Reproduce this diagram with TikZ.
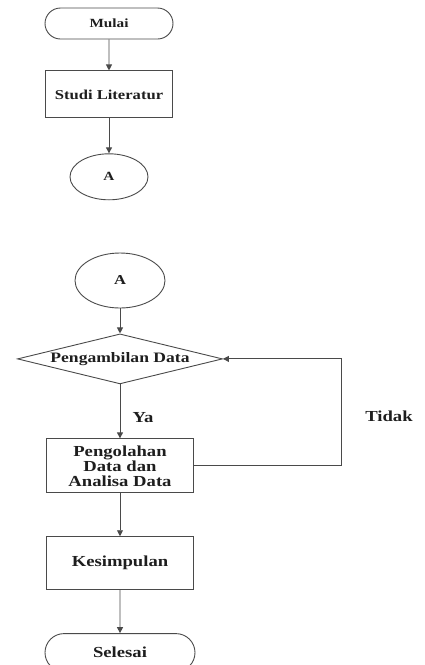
\documentclass[tikz,border=0pt]{standalone}
\usepackage{fontspec}
\setmainfont{Liberation Serif}[FakeStretch=1.22]
\usepackage{tikz}
\usetikzlibrary{shapes.geometric, shapes.misc, arrows.meta, positioning}
\definecolor{linegray}{HTML}{4a4a4a}
\definecolor{textdark}{HTML}{1e1e1e}
\newcommand{\smallfont}{\fontsize{12.5pt}{14pt}\selectfont\bfseries}
\newcommand{\midfont}{\fontsize{13.6pt}{15pt}\selectfont\bfseries}
\newcommand{\bigfont}{\fontsize{15.3pt}{15pt}\selectfont\bfseries}

\begin{document}
\begin{tikzpicture}[
    flow/.style={draw=linegray, line width=0.9pt, -{Triangle[width=6pt,length=6pt]}},
    terminal/.style={rounded rectangle, draw=linegray, line width=0.9pt,
        text=textdark, inner sep=0pt},
    process/.style={rectangle, draw=linegray, line width=0.9pt, text=textdark,
        align=center, inner sep=0pt, minimum width=147pt},
    joint/.style={ellipse, draw=linegray, line width=0.9pt, text=textdark,
        inner sep=0pt},
    decision/.style={diamond, draw=linegray, line width=0.9pt, text=textdark,
        aspect=4, inner sep=0pt, minimum width=205pt, minimum height=50pt},
    answer/.style={text=textdark, font=\bigfont, inner sep=0pt}
  ]
  \useasboundingbox (0,0) rectangle (424pt,-665pt);

  % first page
  \node[terminal, minimum width=128pt, minimum height=31pt, font=\smallfont]
    (mulai) at (109pt,-23.5pt) {Mulai};
  \node[process, minimum width=127pt, minimum height=47pt, font=\midfont,
        below=31pt of mulai] (studi) {Studi Literatur};
  \node[joint, minimum width=78pt, minimum height=46pt, font=\smallfont,
        below=35pt of studi] (konA) {A};

  % second page
  \node[joint, minimum width=90pt, minimum height=55pt, font=\midfont]
    (konB) at (120pt,-280.5pt) {A};
  \node[decision, font=\fontsize{14.4pt}{15pt}\selectfont\bfseries,
        below=25pt of konB] (ambil) {Pengambilan Data};
  \node[process, minimum height=54pt, font=\bigfont, below=54pt of ambil]
    (olah) {Pengolahan\\Data dan\\Analisa Data};
  \node[process, minimum height=53pt, font=\bigfont, below=43pt of olah]
    (simpul) {Kesimpulan};
  \node[terminal, minimum width=150pt, minimum height=38pt, font=\bigfont,
        below=43pt of simpul] (selesai) {Selesai};

  \node[answer] (ya) at (143pt,-418pt) {Ya};
  \node[answer] (tidak) at (389pt,-416pt) {Tidak};

  \draw[flow] (mulai) -- (studi);
  \draw[flow] (studi) -- (konA);
  \draw[flow] (konB) -- (ambil);
  \draw[flow] (ambil) -- (olah);
  \draw[flow] (olah.east) -- ++(147pt,0) |- (ambil.east);
  \draw[flow] (olah) -- (simpul);
  \draw[flow] (simpul) -- (selesai);
\end{tikzpicture}
\end{document}
